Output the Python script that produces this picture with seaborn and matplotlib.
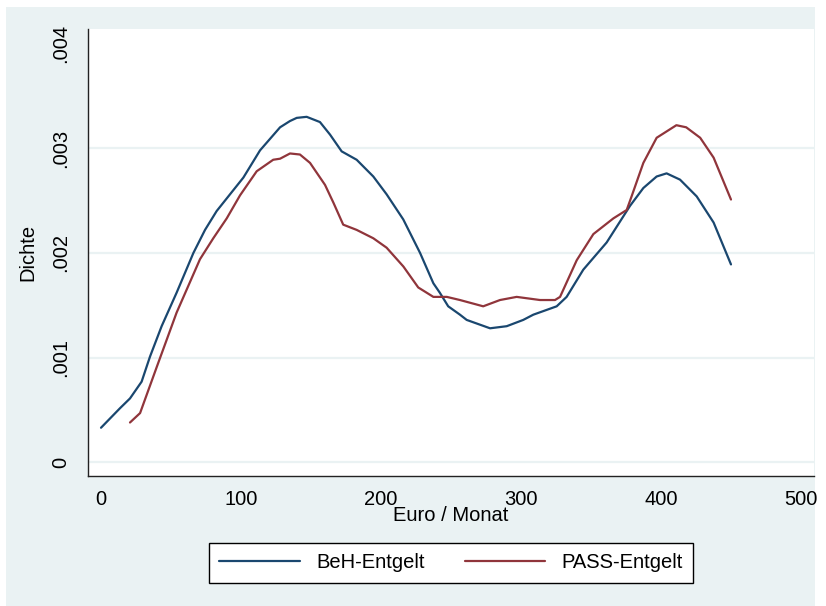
import pandas as pd
import numpy as np
import matplotlib.pyplot as plt
import seaborn as sns
from matplotlib.patches import Rectangle

# Werte (Euro / Monat, Dichte)
beh_x = [0, 13.6, 20.7, 29, 35, 43.3, 54, 66, 74.3, 82.6, 101.7, 113.6, 127.9,
         135, 139.8, 146.9, 156.4, 163.6, 171.9, 182.6, 194.5, 204, 215.9,
         227.9, 237.4, 242, 248, 256.4, 261.2, 277.9, 289.8, 301.6, 308.8,
         325.5, 332.6, 344.5, 361.2, 377.9, 387.4, 396.9, 404, 413.6, 425.5,
         437.6, 450]
beh_y = [0.00033, 0.000517, 0.00061, 0.00077, 0.00101, 0.0013, 0.00162, 0.002,
         0.00222, 0.0024, 0.00272, 0.00298, 0.0032, 0.00326, 0.00329, 0.0033,
         0.00325, 0.00313, 0.00297, 0.00289, 0.00273, 0.00256, 0.00232, 0.002,
         0.00171, 0.00162, 0.00149, 0.00141, 0.00136, 0.00128, 0.0013, 0.00136,
         0.00141, 0.00149, 0.00158, 0.00184, 0.0021, 0.00245, 0.00262, 0.00273,
         0.00276, 0.0027, 0.00254, 0.00229, 0.00189]

pass_x = [20.7, 27.9, 39.8, 54, 70.7, 80.2, 89.8, 99.3, 111.2, 123, 127.9, 135,
          142.1, 149.3, 160, 166, 173, 182.6, 194.5, 204, 216, 226.6, 237.4,
          247, 256.4, 273, 285, 296.9, 313.6, 324.3, 327.9, 339.8, 351.7, 366,
          375.5, 379, 387.4, 396.9, 411, 418, 428, 437.6, 450]
pass_y = [0.00038, 0.00047, 0.00091, 0.00143, 0.00194, 0.00214, 0.00233, 0.00255,
          0.00278, 0.00289, 0.0029, 0.00295, 0.00294, 0.00286, 0.00265, 0.00248,
          0.00227, 0.00222, 0.00214, 0.00205, 0.00187, 0.00167, 0.00158, 0.00158,
          0.00155, 0.00149, 0.00155, 0.00158, 0.00155, 0.00155, 0.00158, 0.00193,
          0.00218, 0.00233, 0.00241, 0.00254, 0.00286, 0.0031, 0.00322, 0.0032,
          0.0031, 0.00291, 0.00251]

series_names = ["BeH-Entgelt", "PASS-Entgelt"]
x_ticks = [0, 100, 200, 300, 400, 500]
y_ticks = [0, 0.001, 0.002, 0.003, 0.004]
y_tick_labels = ["0", ".001", ".002", ".003", ".004"]

df = pd.concat([
    pd.DataFrame({"euro": beh_x, "dichte": beh_y, "serie": series_names[0]}),
    pd.DataFrame({"euro": pass_x, "dichte": pass_y, "serie": series_names[1]}),
])

sns.set_style("white")
plt.rcParams["font.family"] = ["Liberation Sans", "DejaVu Sans"]
plt.rcParams["text.color"] = "black"
plt.rcParams["axes.labelcolor"] = "black"
plt.rcParams["xtick.color"] = "black"
plt.rcParams["ytick.color"] = "black"

bg = "#eaf2f3"
farben = ["#1a476f", "#90353b"]
fig = plt.figure(figsize=(8.26, 6.06), dpi=100, facecolor="white")
fig.patches.append(Rectangle((6 / 826, 0), 809 / 826, 599 / 606,
                             transform=fig.transFigure, facecolor=bg,
                             edgecolor="none", zorder=-10))

ax = fig.add_axes([88 / 826, 130 / 606, 726 / 826, 447 / 606])
ax.set_facecolor("white")

# Gitterlinien wie bei Stata (ohne oberste)
for t in y_ticks[:-1]:
    ax.axhline(t, color=bg, lw=1.6, zorder=0)

sns.lineplot(data=df, x="euro", y="dichte", hue="serie", ax=ax,
             palette=farben, linewidth=1.6, legend=False)
for line in ax.get_lines():
    line.set_solid_joinstyle("round")

ax.set_xlim(-9.3, 509.3)
ax.set_ylim(-0.000131, 0.004139)
ax.set_xticks(x_ticks)
ax.set_xticklabels([str(v) for v in x_ticks], fontsize=14.5)
ax.set_yticks(y_ticks)
ax.set_yticklabels(y_tick_labels, fontsize=14.5, rotation=90, va="center")
ax.tick_params(direction="out", length=6, width=1, color="#333333", pad=4)
ax.tick_params(axis="y", pad=7)

for s in ["top", "right"]:
    ax.spines[s].set_visible(False)
for s in ["left", "bottom"]:
    ax.spines[s].set_color("#222222")
    ax.spines[s].set_linewidth(1)

ax.set_xlabel("Euro / Monat", fontsize=14.5, labelpad=-2)
ax.set_ylabel("Dichte", fontsize=14.5, labelpad=10)

handles = [plt.Line2D([], [], color=c, lw=1.6) for c in farben]
leg = fig.legend(handles, series_names, loc="center", ncol=2,
                 bbox_to_anchor=(451 / 826, 1 - 563 / 606), fontsize=14.5,
                 frameon=True, fancybox=False, edgecolor="black", framealpha=1,
                 handlelength=4.0, columnspacing=2.0, borderpad=0.5)
leg.get_frame().set_linewidth(1)

fig.savefig("out.png", dpi=100, facecolor=fig.get_facecolor())
